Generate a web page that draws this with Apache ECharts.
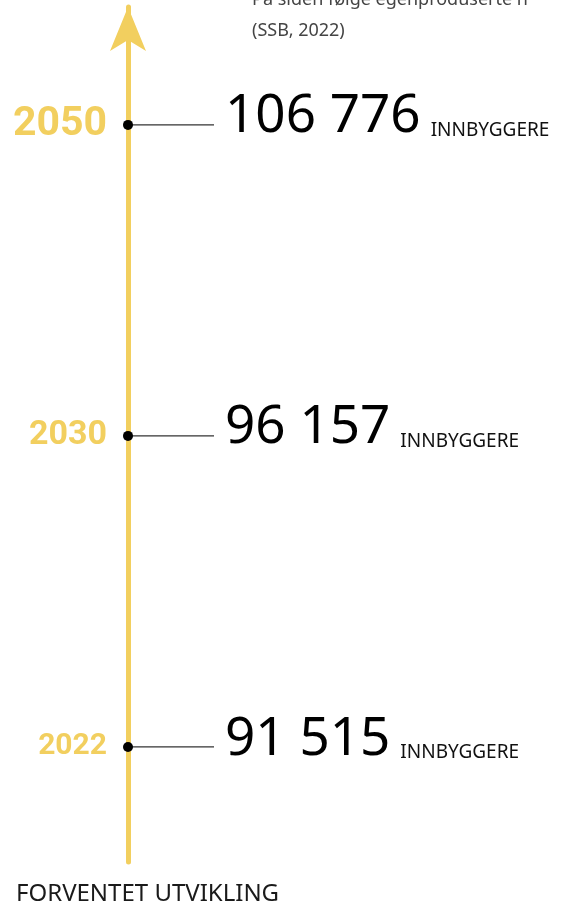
<!DOCTYPE html>
<html>
<head>
<meta charset="utf-8">
<script src="https://cdn.jsdelivr.net/npm/echarts@6/dist/echarts.min.js"></script>
<style>
  html, body { margin: 0; padding: 0; background: #fff; }
  #chart { width: 564px; height: 911px; }
</style>
</head>
<body>
<div id="chart"></div>
<script>
// data
const years = ['2022', '2030', '2050']
const population = [91515, 96157, 106776]
const unitLabel = 'INNBYGGERE'
const introLines = ['På siden følge egenproduserte n', '(SSB, 2022)']
const footerLabel = 'FORVENTET UTVIKLING'

// styles
const yellow = '#F2CF5F'
const yearFontSizes = [30, 34, 41]

const chart = echarts.init(document.getElementById('chart'))

// 91515 -> "91 515"
function fmt(v) {
  return String(v).replace(/\B(?=(\d{3})+(?!\d))/g, ' ')
}

function renderItem(params, api) {
  const i = api.value(1)
  const pt = api.coord([api.value(0), i])
  const x = pt[0]
  const y = pt[1]
  return {
    type: 'group',
    children: [
      {
        type: 'line',
        shape: { x1: x + 4, y1: y, x2: x + 86, y2: y },
        style: { stroke: '#333', lineWidth: 1.4 }
      },
      {
        type: 'circle',
        shape: { cx: x, cy: y, r: 5 },
        style: { fill: '#000' }
      },
      {
        type: 'text',
        x: x - 21,
        y: y,
        style: {
          text: years[i],
          align: 'right',
          verticalAlign: 'middle',
          fill: yellow,
          font: 'bold ' + yearFontSizes[i] + 'px Roboto'
        }
      },
      {
        type: 'text',
        x: x + 97,
        y: y + 19,
        style: {
          text: '{n|' + fmt(population[i]) + '}{u|' + unitLabel + '}',
          align: 'left',
          verticalAlign: 'bottom',
          rich: {
            n: {
              fontFamily: 'Noto Sans',
              fontSize: 53,
              lineHeight: 53,
              verticalAlign: 'bottom',
              fill: '#000'
            },
            u: {
              fontFamily: 'Noto Sans',
              fontSize: 19,
              lineHeight: 19,
              verticalAlign: 'bottom',
              padding: [0, 0, 4, 10],
              fill: '#111'
            }
          }
        }
      }
    ]
  }
}

const option = {
  animation: false,
  grid: { left: 128, right: 20, top: 7, bottom: 49 },
  xAxis: {
    type: 'value',
    min: 0,
    max: 1,
    show: false
  },
  yAxis: {
    type: 'value',
    min: -0.37,
    max: 2.379,
    splitLine: { show: false },
    axisTick: { show: false },
    axisLabel: { show: false },
    axisLine: {
      show: true,
      symbol: ['none', 'arrow'],
      symbolSize: [27, 44],
      lineStyle: { color: yellow, width: 5 }
    }
  },
  graphic: [
    {
      type: 'text',
      left: 252,
      top: -16,
      style: {
        text: introLines.join('\n'),
        font: '18px "Noto Sans"',
        lineHeight: 31,
        fill: '#444'
      }
    },
    {
      type: 'text',
      left: 16,
      top: 882,
      style: {
        text: footerLabel,
        font: '24px "Noto Sans"',
        fill: '#1a1a1a'
      }
    }
  ],
  series: [{
    type: 'custom',
    renderItem: renderItem,
    data: years.map((yr, i) => [0, i]),
    z: 5
  }]
}

chart.setOption(option)
</script>
</body>
</html>
